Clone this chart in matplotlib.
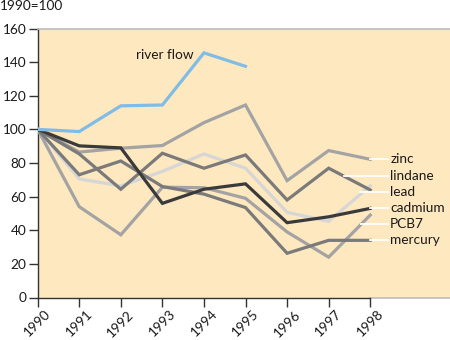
import matplotlib
matplotlib.use("Agg")
import matplotlib.pyplot as plt
import numpy as np

plt.rcParams['font.family'] = ['Lato', 'DejaVu Sans']

years = [1990, 1991, 1992, 1993, 1994, 1995, 1996, 1997, 1998]
river_years = [1990, 1991, 1992, 1993, 1994, 1995]
river_flow = [100, 98.7, 114, 114.5, 145.5, 137.5]
zinc = [100, 86.5, 88.8, 90.4, 104, 114.5, 69.5, 87.4, 82.2]
lindane = [100, 85.4, 64.4, 85.8, 76.9, 84.8, 58, 76.9, 64]
lead = [100, 70.5, 66.4, 75, 85.4, 76.9, 50.7, 45.3, 66.4]
cadmium = [100, 90.2, 89, 56, 64.4, 67.6, 44.5, 48, 53]
pcb7 = [100, 54, 37.3, 65.6, 65.3, 59, 39, 24, 49]
mercury = [100, 73, 81.2, 66, 61.5, 53.5, 26.3, 34, 34]

series_names = ['zinc', 'lindane', 'lead', 'cadmium', 'PCB7', 'mercury']
series_values = [zinc, lindane, lead, cadmium, pcb7, mercury]
series_colors = ['#a3a3a3', '#7a7a7a', '#d6d6d6', '#3a3a3a', '#a3a3a3', '#7a7a7a']
# layout: label heights and leader start positions (years)
label_y = [82.5, 72.5, 63, 53.3, 43.8, 34.3]
leader_x0 = [1998, 1997.38, 1997.75, 1998, 1997.79, 1998]
yticks = [0, 20, 40, 60, 80, 100, 120, 140, 160]

FS = 9.8

fig = plt.figure(figsize=(4.5, 3.4), dpi=100)
ax = fig.add_axes([37.7 / 450, 1 - 297.5 / 340, 1 - 37.7 / 450, (297.5 - 28.5) / 340])
ax.set_facecolor('#fde8bf')
ax.set_xlim(1990, 1999.92)
ax.set_ylim(0, 160)

draw_order = [2, 4, 0, 5, 1, 3]
for i in draw_order:
    ax.plot(years, series_values[i], color=series_colors[i], lw=2.3,
            solid_joinstyle='miter', zorder=3)
ax.plot(river_years, river_flow, color='#80bce6', lw=2.3, solid_joinstyle='miter', zorder=3)

for name, ly, x0 in zip(series_names, label_y, leader_x0):
    ax.plot([x0, 1998.42], [ly, ly], color='white', lw=1.3, zorder=4)
    ax.text(1998.48, ly, name, fontsize=FS, va='center', ha='left', color='#1a1a1a')

ax.text(1992.37, 144, 'river flow', fontsize=FS, va='center', ha='left', color='#1a1a1a')

fig.text(0.0, 1 - 6 / 340, '1990=100', fontsize=FS, va='center', ha='left', color='#1a1a1a')

ax.spines['right'].set_visible(False)
ax.spines['top'].set_color('#bdbdbd')
ax.spines['top'].set_linewidth(1.2)
ax.spines['left'].set_color('#333333')
ax.spines['left'].set_linewidth(1.0)
ax.spines['bottom'].set_color('#333333')
ax.spines['bottom'].set_linewidth(1.0)
ax.spines['bottom'].set_bounds(1990, 1998)
ax.axhline(0, xmin=8 / 9.92, xmax=1, color='#bdbdbd', lw=1.2, clip_on=False, zorder=2)

ax.set_yticks(yticks)
ax.set_yticklabels([str(v) for v in yticks])
ax.set_xticks(years)
ax.set_xticklabels([str(y) for y in years], rotation=45, ha='center')
ax.tick_params(axis='both', length=6.5, width=1.0, color='#333333', labelsize=FS,
               labelcolor='#1a1a1a', direction='out')
ax.tick_params(axis='y', pad=1.5)
ax.tick_params(axis='x', pad=1)

fig.savefig('out.png', dpi=100)
